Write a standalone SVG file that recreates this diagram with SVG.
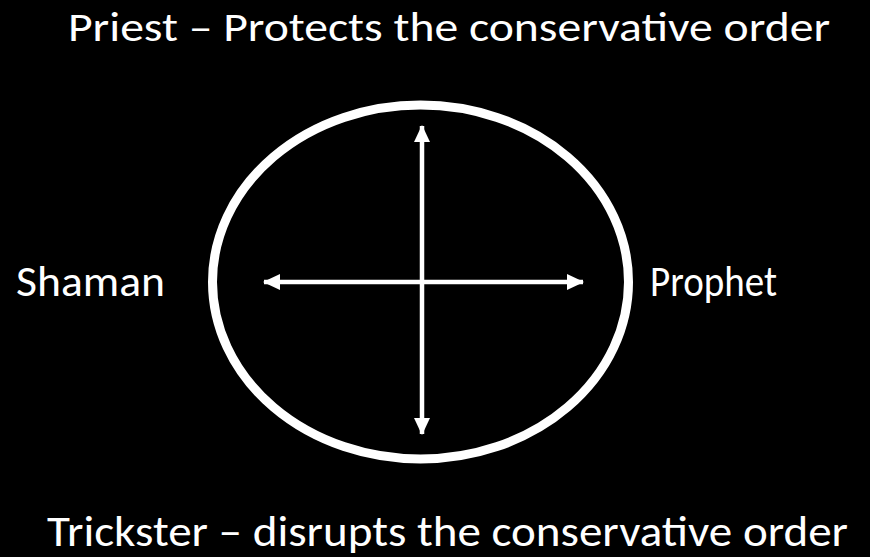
<svg xmlns="http://www.w3.org/2000/svg" width="870" height="557" viewBox="0 0 870 557">
<style>
.t{fill:#fff;font-family:Carlito,"Open Sans","Liberation Sans",sans-serif;font-size:44px}
.c{stroke:#fff;stroke-width:4.5;fill:none}
</style>
<defs>
<marker id="ah" markerUnits="userSpaceOnUse" markerWidth="17" markerHeight="16" refX="16" refY="8" orient="auto-start-reverse" viewBox="0 0 17 16">
<path d="M0,0 L17,8 L0,16 Z" fill="#fff"/>
</marker>
</defs>
<rect width="870" height="557" fill="#000"/>
<g id="circle"><ellipse cx="420.5" cy="282" rx="208" ry="177" fill="none" stroke="#fff" stroke-width="9"/></g>
<g id="connectors">
<line class="c" x1="422" y1="126" x2="422" y2="434" marker-start="url(#ah)" marker-end="url(#ah)"/>
<line class="c" x1="264" y1="282" x2="583" y2="282" marker-start="url(#ah)" marker-end="url(#ah)"/>
</g>
<g id="priest"><text class="t" x="68" y="41" font-size="42" textLength="762" lengthAdjust="spacingAndGlyphs" style="font-size:42px">Priest – Protects the conservative order</text></g>
<g id="shaman"><text class="t" x="16" y="296" textLength="149" lengthAdjust="spacingAndGlyphs">Shaman</text></g>
<g id="prophet"><text class="t" x="650" y="296" textLength="127" lengthAdjust="spacingAndGlyphs">Prophet</text></g>
<g id="trickster"><text class="t" x="47" y="546" textLength="801" lengthAdjust="spacingAndGlyphs">Trickster – disrupts the conservative order</text></g>
</svg>
